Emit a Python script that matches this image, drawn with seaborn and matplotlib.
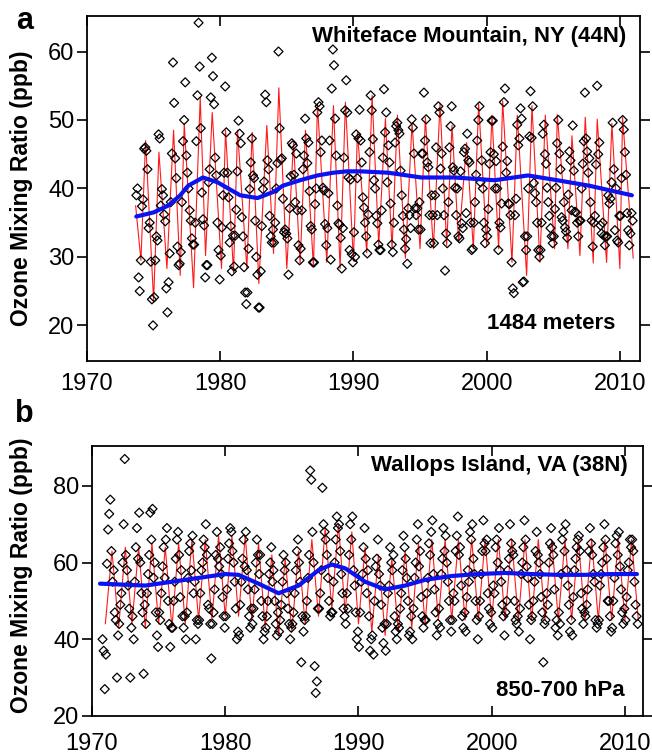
import numpy as np
import pandas as pd
import matplotlib
matplotlib.use("Agg")
import matplotlib.pyplot as plt
import seaborn as sns

sns.set_theme(style="white")
plt.rcParams["font.family"] = ["Liberation Sans", "DejaVu Sans"]
plt.rcParams["text.color"] = "black"
plt.rcParams["axes.labelcolor"] = "black"
plt.rcParams["xtick.color"] = "black"
plt.rcParams["ytick.color"] = "black"

# ---------------- Panel a : Whiteface Mountain, NY ----------------
wf_first_year = 1973
wf_first_month = 9
wf_obs = [
    [39, 40, 27, 25],
    [29.5, 37.4, 38.4, 45.8, 46.0, 45.5, 42.8, 34.2, 35.0, 29.3, 23.8, 20.0],
    [24.1, 29.5, 33.0, 32.4, 47.9, 47.3, 37.5, 39.9, 39.0, 36.2, 35.2, 25.4],
    [21.9, 26.3, 30.5, 38.0, 45.1, 58.4, 52.5, 44.4, 41.5, 31.5, 28.8, 29.0],
    [30.7, 38.0, 46.9, 50.0, 55.5, 44.8, 42.3, 40.0, 36.8, 35.3, 32.7, 31.8],
    [31.8, 35.0, 46.9, 53.6, 64.2, 57.8, 48.8, 39.4, 35.5, 34.6, 27.0, 28.8],
    [28.8, 40.9, 42.8, 53.3, 59.1, 56.4, 52.3, 44.5, 41.9, 35.0, 31.0, 26.7],
    [30.2, 34.3, 39.0, 42.3, 54.9, 48.2, 42.3, 38.7, 32.1, 34.5, 27.9, 33.1],
    [28.6, 33.1, 36.9, 42.5, 49.9, 48.0, 46.6, 35.8, 33.0, 28.5, 24.8, 23.1],
    [24.8, 31.2, 39.9, 43.8, 47.3, 41.9, 41.5, 35.3, 30.0, 27.4, 22.6, 22.6],
    [27.9, 34.5, 39.9, 41.0, 53.7, 52.6, 44.1, 42.8, 36.0, 33.0, 32.1, 34.0],
    [32.1, 35.0, 40.0, 43.7, 60.0, 48.8, 44.2, 44.4, 38.5, 33.6, 34.0, 33.4],
    [32.7, 27.4, 37.1, 41.8, 46.6, 46.3, 42.0, 38.0, 45.1, 36.8, 31.7, 29.5],
    [31.2, 36.8, 42.8, 44.8, 50.2, 47.3, 43.7, 46.7, 39.6, 34.5, 34.0, 29.2],
    [29.2, 37.7, 40.0, 51.1, 52.6, 52.0, 45.3, 47.0, 40.1, 39.7, 34.8, 31.7],
    [34.2, 39.3, 47.0, 29.6, 54.6, 60.3, 58.0, 50.2, 44.8, 37.5, 34.9, 34.7],
    [32.8, 28.3, 34.2, 44.5, 51.4, 55.8, 51.1, 41.6, 31.0, 41.3, 30.4, 29.2],
    [33.6, 30.0, 47.9, 41.5, 47.3, 51.5, 47.0, 43.8, 38.7, 37.2, 35.0, 33.0],
    [30.5, 36.2, 45.3, 53.6, 51.4, 47.2, 41.2, 40.0, 36.0, 34.9, 31.8, 31.0],
    [31.0, 36.8, 44.5, 54.5, 48.2, 51.1, 40.9, 46.3, 43.8, 37.8, 31.8, 30.7],
    [35.0, 46.7, 49.1, 49.6, 48.5, 48.0, 42.6, 39.0, 36.0, 34.0, 31.2, 32.6],
    [29.0, 37.1, 36.1, 34.2, 50.1, 48.9, 45.1, 37.1, 36.1, 37.1, 34.0, 38.0],
    [34.0, 45.1, 45.1, 54.0, 47.0, 50.1, 43.8, 43.1, 36.1, 32.0, 39.0, 36.1],
    [32.0, 39.0, 46.0, 36.1, 52.0, 51.1, 42.9, 45.1, 40.0, 36.1, 28.0, 33.4],
    [32.0, 38.0, 46.0, 49.1, 52.0, 43.1, 42.6, 40.1, 36.1, 40.0, 33.0, 32.7],
    [42.5, 34.9, 34.2, 45.3, 45.8, 36.4, 48.0, 44.1, 43.8, 35.0, 31.0, 31.2],
    [35.0, 38.0, 42.0, 47.0, 50.0, 52.0, 40.9, 44.1, 40.0, 35.0, 32.0, 34.0],
    [33.0, 37.0, 43.6, 45.3, 49.9, 49.9, 45.0, 40.0, 44.0, 40.0, 31.0, 35.0],
    [34.3, 37.8, 46.1, 52.6, 54.6, 42.3, 44.0, 37.8, 37.7, 36.1, 29.2, 25.4],
    [24.7, 36.1, 38.5, 49.3, 46.3, 47.3, 51.7, 50.2, 26.3, 26.4, 33.0, 31.0],
    [33.0, 40.0, 47.6, 54.2, 47.4, 52.0, 40.8, 39.3, 38.0, 35.0, 31.0, 30.0],
    [31.0, 35.0, 48.0, 49.3, 45.0, 43.6, 40.1, 38.0, 36.0, 34.2, 33.0, 32.0],
    [33.0, 37.0, 40.1, 46.6, 50.0, 45.1, 42.8, 35.8, 35.3, 38.0, 34.3, 33.7],
    [32.8, 39.1, 45.4, 44.1, 36.8, 49.2, 42.6, 36.6, 36.5, 35.0, 33.0, 35.3],
    [35.3, 40.0, 43.6, 46.9, 54.0, 47.3, 45.4, 42.3, 44.4, 38.0, 35.3, 31.5],
    [35.0, 36.0, 43.5, 55.0, 45.0, 46.7, 34.6, 33.4, 35.0, 33.1, 31.7, 33.0],
    [33.0, 39.0, 37.8, 38.5, 40.9, 49.6, 42.8, 33.9, 40.0, 32.4, 32.1, 36.0],
    [36.0, 41.5, 50.0, 48.6, 45.3, 42.0, 36.4, 33.9, 31.7, 33.4, 36.4, 35.3],
]
# red fitted curve: turning points (decimal year, ppb)
wf_fit_t = [1973.65, 1974.05, 1974.4, 1975.0, 1975.4, 1976.0, 1976.5, 1977.0, 1977.3,
            1978.0, 1978.5, 1978.9, 1979.4, 1980.1, 1980.4, 1981.0, 1981.3, 1982.0,
            1982.4, 1982.9, 1983.5, 1984.0, 1984.4, 1985.0, 1985.5, 1986.0, 1986.4,
            1987.0, 1987.3, 1988.0, 1988.5, 1989.0, 1989.4, 1990.0, 1990.3, 1991.0,
            1991.4, 1991.9, 1992.4, 1992.9, 1993.3, 1993.9, 1994.4, 1995.0, 1995.4,
            1996.0, 1996.5, 1997.0, 1997.4, 1997.9, 1998.5, 1999.0, 1999.4, 2000.0,
            2000.4, 2000.9, 2001.2, 2001.9, 2002.3, 2003.0, 2003.4, 2004.0, 2004.4,
            2005.1, 2005.3, 2006.1, 2006.4, 2007.0, 2007.4, 2008.0, 2008.3, 2009.0,
            2009.4, 2010.0, 2010.2, 2011.0]
wf_fit_v = [37.5, 29.5, 47.0, 23.6, 45.3, 28.3, 48.5, 27.3, 49.5,
            25.5, 53.3, 30.2, 51.1, 28.3, 48.5, 27.7, 48.5, 28.3,
            48.2, 26.1, 49.2, 30.5, 54.7, 28.3, 46.7, 29.0, 48.5,
            28.5, 52.3, 29.2, 52.1, 28.3, 52.6, 29.4, 48.2, 30.6,
            53.6, 31.7, 50.2, 31.2, 50.7, 29.8, 49.6, 31.2, 50.4,
            31.2, 52.4, 31.7, 49.2, 32.1, 46.7, 31.2, 52.4, 31.7,
            50.7, 31.2, 52.8, 29.2, 50.7, 27.3, 52.1, 29.2, 50.7,
            31.2, 50.8, 31.2, 47.7, 30.2, 50.4, 29.1, 50.1, 29.2,
            49.5, 28.3, 50.4, 29.8]
# blue smooth trend
wf_trend_t = [1973.7, 1975.0, 1976.1, 1977.0, 1977.6, 1978.7, 1979.8, 1980.6, 1981.5,
              1982.8, 1984.0, 1984.7, 1986.0, 1987.3, 1988.5, 1989.5, 1990.5, 1992.6,
              1995.1, 1997.6, 2000.6, 2003.1, 2005.3, 2007.7, 2010.9]
wf_trend_v = [35.9, 36.5, 37.5, 39.0, 40.4, 41.6, 40.9, 40.0, 39.0,
              38.6, 39.5, 40.4, 41.2, 41.9, 42.3, 42.5, 42.5, 42.3,
              41.6, 41.6, 41.2, 41.9, 41.2, 40.4, 39.0]

# ---------------- Panel b : Wallops Island, VA ----------------
wi_first_year = 1970
wi_first_month = 10
wi_obs = [
    [40, 37, 27],
    [36, 59.7, 68.6, 72.7, 76.4, 63, 55, 58, 47, 45, 30, 41],
    [44, 49, 52, 60, 70, 87, 62, 58, 54, 48, 30, 43],
    [46, 40, 55, 64, 69, 61, 73, 60, 52, 47, 31, 49],
    [44, 52, 57, 62, 73, 66, 74, 56, 60, 47, 41, 38],
    [47, 45, 52, 59, 64, 56, 66, 69, 50, 44, 38, 43],
    [43, 50, 55, 61, 66, 68, 62, 51, 58, 46, 43, 46],
    [40, 47, 56, 63, 65, 58, 67, 52, 55, 40, 45, 44],
    [45, 52, 58, 60, 66, 64, 70, 62, 49, 48, 44, 35],
    [44, 47, 53, 62, 68, 61, 59, 64, 57, 51, 46, 43],
    [46, 53, 61, 65, 69, 68, 63, 60, 55, 48, 40, 42],
    [41, 49, 55, 61, 66, 59, 68, 58, 53, 46, 43, 48],
    [44, 48, 53, 60, 66, 62, 57, 62, 50, 46, 40, 42],
    [43, 46, 50, 57, 60, 64, 55, 58, 50, 44, 41, 47],
    [42, 45, 49, 55, 62, 58, 60, 52, 48, 44, 40, 43],
    [44, 47, 52, 58, 63, 66, 60, 55, 34, 46, 42, 45],
    [46, 50, 56, 62, 84, 81.6, 68, 60, 33, 26, 29, 48],
    [48, 52, 58, 79.5, 70, 68, 66, 62, 56, 50, 46, 47],
    [47, 55, 60, 66, 72, 69, 70, 63, 57, 52, 48, 46],
    [44, 52, 48, 62, 70, 66, 72, 58, 54, 47, 40, 42],
    [38, 47, 55, 57, 64, 69, 61, 52, 58, 46, 37, 40],
    [41, 36, 50, 59, 61, 66, 57, 54, 49, 43, 39, 44],
    [37, 44, 52, 54, 64, 60, 58, 62, 46, 42, 40, 44],
    [43, 48, 52, 58, 67, 64, 61, 56, 50, 41, 42, 46],
    [40, 48, 56, 60, 66, 70, 59, 63, 51, 46, 43, 45],
    [45, 52, 56, 65, 62, 68, 71, 57, 53, 47, 41, 44],
    [48, 43, 57, 61, 69, 63, 67, 60, 55, 50, 45, 42],
    [45, 52, 50, 63, 67, 72, 62, 64, 54, 46, 43, 47],
    [42, 51, 58, 55, 68, 66, 70, 61, 57, 50, 45, 40],
    [46, 50, 57, 63, 71, 65, 63, 66, 52, 48, 44, 47],
    [43, 54, 52, 64, 66, 60, 69, 58, 55, 49, 46, 41],
    [47, 50, 58, 61, 70, 65, 63, 62, 50, 45, 44, 46],
    [42, 48, 57, 60, 64, 71, 66, 59, 56, 49, 40, 45],
    [46, 50, 55, 63, 68, 62, 60, 57, 51, 47, 34, 44],
    [45, 52, 49, 60, 65, 69, 64, 62, 53, 43, 45, 41],
    [47, 44, 57, 66, 68, 63, 70, 58, 54, 49, 42, 45],
    [41, 51, 58, 61, 64, 66, 67, 63, 52, 48, 44, 47],
    [46, 49, 53, 63, 69, 65, 62, 57, 55, 45, 43, 44],
    [45, 54, 57, 60, 64, 70, 66, 61, 50, 50, 46, 42],
    [43, 50, 56, 65, 67, 62, 68, 59, 53, 47, 44, 48],
    [45, 51, 58, 60, 66, 64, 66, 63, 55, 49, 46, 44],
]
wi_fit_years = list(range(1971, 2011))
wi_fit_trough = [44, 43, 44, 43, 44, 43, 44, 45, 45, 46, 46, 45, 43, 41, 42, 44, 46, 48, 47, 44,
                 42, 41, 42, 43, 44, 45, 45, 45, 45, 45, 45, 45, 45, 45, 45, 45, 45, 45, 45, 45]
wi_fit_peak = [63, 64, 64, 65, 64, 65, 66, 66, 67, 67, 67, 65, 62, 61, 63, 66, 69, 70, 68, 64,
               62, 61, 63, 65, 66, 66, 66, 66, 66, 66, 66, 66, 66, 66, 66, 66, 66, 66, 66, 66]
wi_trend_t = [1970.6, 1972.0, 1974.0, 1976.0, 1978.0, 1980.0, 1981.0, 1982.5, 1984.0, 1985.5,
              1987.0, 1988.0, 1989.0, 1990.5, 1992.0, 1993.5, 1995.0, 1997.0, 1999.0, 2001.0,
              2003.0, 2005.0, 2007.0, 2009.0, 2010.9]
wi_trend_v = [54.5, 54.3, 54.0, 55.0, 56.0, 57.0, 56.8, 54.5, 52.0, 54.0,
              58.0, 59.5, 58.5, 55.0, 53.0, 54.0, 55.5, 56.5, 57.0, 57.3,
              57.0, 56.8, 56.8, 57.0, 57.0]

year_ticks = [1970, 1980, 1990, 2000, 2010]


def obs_frame(first_year, first_month, rows):
    t, v = [], []
    for i, row in enumerate(rows):
        m0 = first_month if i == 0 else 1
        for k, val in enumerate(row):
            t.append(first_year + i + (m0 + k - 0.5) / 12.0)
            v.append(val)
    return pd.DataFrame({"t": t, "v": v})


def wave_frame(years, troughs, peaks):
    t, v = [], []
    for y, lo, hi in zip(years, troughs, peaks):
        t += [y + 0.0, y + 0.5]
        v += [lo, hi]
    t.append(years[-1] + 1.0)
    v.append(troughs[-1])
    return pd.DataFrame({"t": t, "v": v})


fig = plt.figure(figsize=(6.52, 7.55), dpi=100)
ax_a = fig.add_axes([0.1334, 0.5219, 0.848, 0.457])
ax_b = fig.add_axes([0.1411, 0.0517, 0.845, 0.3576])

df_a = obs_frame(wf_first_year, wf_first_month, wf_obs)
fit_a = pd.DataFrame({"t": wf_fit_t, "v": wf_fit_v})
trend_a = pd.DataFrame({"t": wf_trend_t, "v": wf_trend_v})

df_b = obs_frame(wi_first_year, wi_first_month, wi_obs)
fit_b = wave_frame(wi_fit_years, wi_fit_trough, wi_fit_peak)
trend_b = pd.DataFrame({"t": wi_trend_t, "v": wi_trend_v})

for ax, df, fit, trend in [(ax_a, df_a, fit_a, trend_a), (ax_b, df_b, fit_b, trend_b)]:
    sns.lineplot(data=fit, x="t", y="v", color="#ff1a1a", linewidth=0.8,
                 estimator=None, ax=ax, zorder=2)
    sns.scatterplot(data=df, x="t", y="v", marker="D", s=21, facecolor="none",
                    edgecolor="black", linewidth=0.9, ax=ax, zorder=3)
    sns.lineplot(data=trend, x="t", y="v", color="#0a14f0", linewidth=3.0,
                 estimator=None, ax=ax, zorder=4)

ax_a.set_xlim(1970, 2011.5)
ax_a.set_ylim(14.8, 65.2)
ax_a.set_yticks([20, 30, 40, 50, 60])
ax_b.set_xlim(1970, 2011.35)
ax_b.set_ylim(20, 90.4)
ax_b.set_yticks([20, 40, 60, 80])

for ax, pad in [(ax_a, 9), (ax_b, 12)]:
    ax.set_xticks(year_ticks)
    ax.set_xlabel("")
    ax.set_ylabel("Ozone Mixing Ratio (ppb)", fontsize=16.5, fontweight="bold",
                  color="black")
    ax.tick_params(axis="x", direction="in", top=True, bottom=True, length=7,
                   width=1.2, labelsize=17, pad=pad, colors="black")
    ax.tick_params(axis="y", direction="out", left=True, right=True, length=7,
                   width=1.2, labelsize=17, pad=2, labelright=False, colors="black")
    for s in ax.spines.values():
        s.set_color("black")
        s.set_linewidth(1.3)
    ax.grid(False)

ax_a.yaxis.set_label_coords(-0.098, 0.5)
ax_b.yaxis.set_label_coords(-0.107, 0.52)

ax_a.text(0.975, 0.94, "Whiteface Mountain, NY (44N)", transform=ax_a.transAxes,
          ha="right", va="center", fontsize=16, fontweight="bold", color="black")
ax_a.text(0.955, 0.11, "1484 meters", transform=ax_a.transAxes,
          ha="right", va="center", fontsize=16, fontweight="bold", color="black")
ax_b.text(0.973, 0.926, "Wallops Island, VA (38N)", transform=ax_b.transAxes,
          ha="right", va="center", fontsize=16, fontweight="bold", color="black")
ax_b.text(0.967, 0.096, "850-700 hPa", transform=ax_b.transAxes,
          ha="right", va="center", fontsize=16, fontweight="bold", color="black")

fig.text(0.038, 0.972, "a", ha="center", va="center", fontsize=22, fontweight="bold",
         color="black")
fig.text(0.038, 0.452, "b", ha="center", va="center", fontsize=22, fontweight="bold",
         color="black")

fig.savefig("out.png", dpi=100)
